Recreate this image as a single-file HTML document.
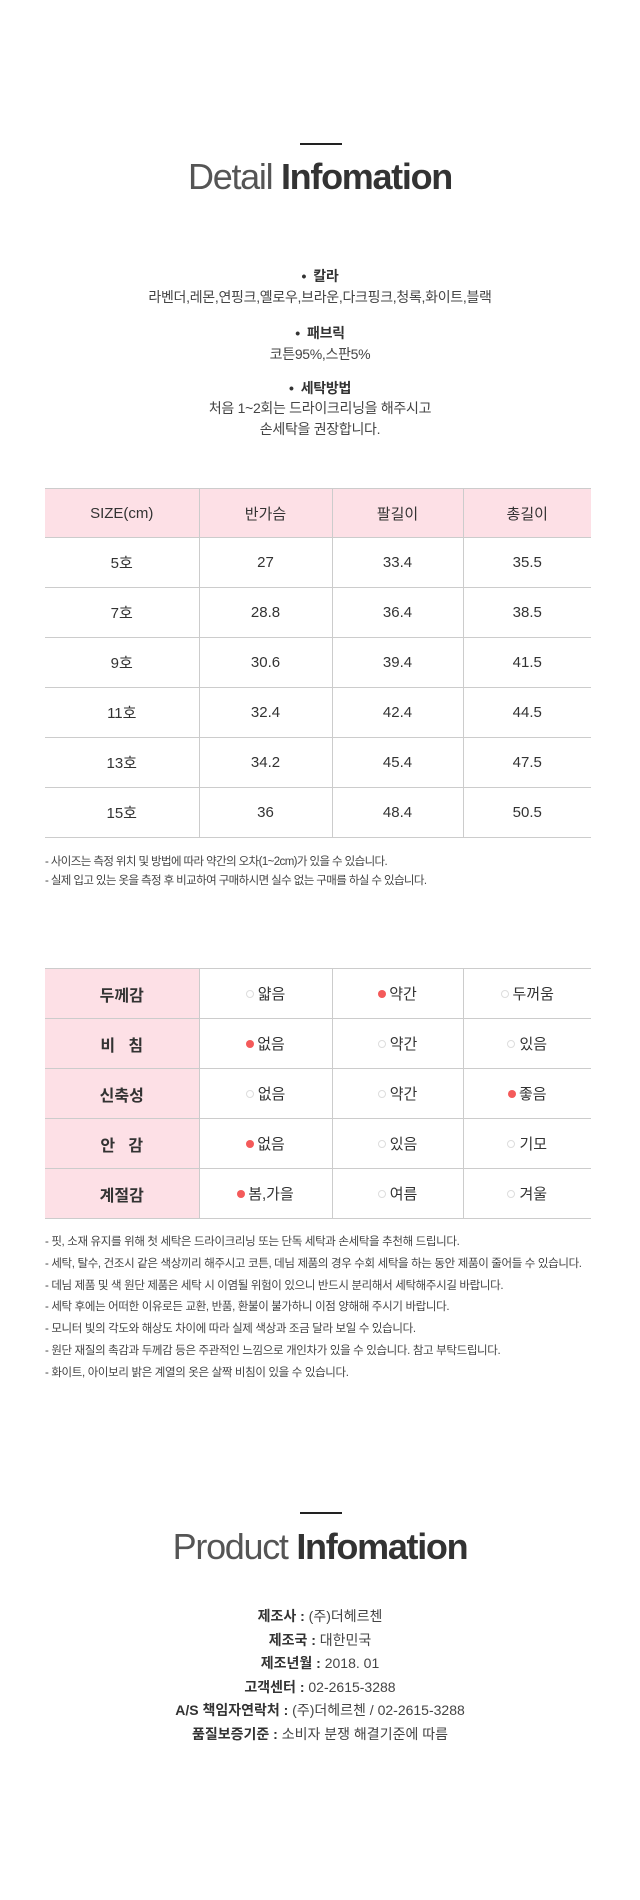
<!DOCTYPE html>
<html><head><meta charset="utf-8">
<style>
*{margin:0;padding:0;box-sizing:border-box}
body{width:640px;height:1900px;background:#fff;position:relative;font-family:"Liberation Sans","Noto Sans CJK KR",sans-serif;color:#333;overflow:hidden}
.ln{position:absolute;left:300px;width:42px;height:2px;background:#222}
.ttl{position:absolute;left:0;width:640px;text-align:center;font-size:36px;color:#333;letter-spacing:-1.3px;line-height:40px}
.ttl b{font-weight:bold}
.ttl span{font-weight:300;color:#555}
.c{position:absolute;left:0;width:640px;text-align:center;font-size:14px;line-height:20px;color:#444;letter-spacing:-0.3px}
.c.b{font-weight:bold;color:#333}
table{position:absolute;left:45px;width:546px;border-collapse:collapse;table-layout:fixed}
td{border-top:1px solid #ccc;border-bottom:1px solid #ccc;border-left:1px solid #ccc;height:50px;text-align:center;font-size:15px;color:#333}
td:first-child{border-left:none}
tr.h td{background:#fde0e6;height:49px}
td.p{background:#fde0e6;font-weight:bold;font-size:16px}
.d{display:inline-block;width:8px;height:8px;border-radius:50%;background:#f45a5a;margin-right:3px;vertical-align:1px}
.o{display:inline-block;width:8px;height:8px;border-radius:50%;border:1px solid #ddd;margin-right:4px;vertical-align:1px}
.n{position:absolute;left:45px;font-size:11.5px;color:#444;letter-spacing:-0.6px;line-height:19px;white-space:nowrap}
.info{position:absolute;left:0;width:640px;text-align:center;font-size:14px;line-height:23.5px;color:#444}
.info b{color:#333}
</style></head><body>
<div class="ln" style="top:143px"></div>
<div class="ttl" style="top:157px"><span>Detail</span> <b>Infomation</b></div>

<div class="c b" style="top:266px">•&nbsp; 칼라</div>
<div class="c" style="top:287px">라벤더,레몬,연핑크,옐로우,브라운,다크핑크,청록,화이트,블랙</div>
<div class="c b" style="top:323px">•&nbsp; 패브릭</div>
<div class="c" style="top:344px">코튼95%,스판5%</div>
<div class="c b" style="top:378px">•&nbsp; 세탁방법</div>
<div class="c" style="top:398px">처음 1~2회는 드라이크리닝을 해주시고</div>
<div class="c" style="top:419px">손세탁을 권장합니다.</div>

<table style="top:488px">
<colgroup><col style="width:154px"><col style="width:133px"><col style="width:131px"><col style="width:128px"></colgroup>
<tr class="h"><td>SIZE(cm)</td><td>반가슴</td><td>팔길이</td><td>총길이</td></tr>
<tr><td>5호</td><td>27</td><td>33.4</td><td>35.5</td></tr>
<tr><td>7호</td><td>28.8</td><td>36.4</td><td>38.5</td></tr>
<tr><td>9호</td><td>30.6</td><td>39.4</td><td>41.5</td></tr>
<tr><td>11호</td><td>32.4</td><td>42.4</td><td>44.5</td></tr>
<tr><td>13호</td><td>34.2</td><td>45.4</td><td>47.5</td></tr>
<tr><td>15호</td><td>36</td><td>48.4</td><td>50.5</td></tr>
</table>
<div class="n" style="top:853px">- 사이즈는 측정 위치 및 방법에 따라 약간의 오차(1~2cm)가 있을 수 있습니다.<br>- 실제 입고 있는 옷을 측정 후 비교하여 구매하시면 실수 없는 구매를 하실 수 있습니다.</div>

<table style="top:968px">
<colgroup><col style="width:154px"><col style="width:133px"><col style="width:131px"><col style="width:128px"></colgroup>
<tr><td class="p">두께감</td><td><i class="o"></i>얇음</td><td><i class="d"></i>약간</td><td><i class="o"></i>두꺼움</td></tr>
<tr><td class="p">비 &nbsp; 침</td><td><i class="d"></i>없음</td><td><i class="o"></i>약간</td><td><i class="o"></i>있음</td></tr>
<tr><td class="p">신축성</td><td><i class="o"></i>없음</td><td><i class="o"></i>약간</td><td><i class="d"></i>좋음</td></tr>
<tr><td class="p">안 &nbsp; 감</td><td><i class="d"></i>없음</td><td><i class="o"></i>있음</td><td><i class="o"></i>기모</td></tr>
<tr><td class="p">계절감</td><td><i class="d"></i>봄,가을</td><td><i class="o"></i>여름</td><td><i class="o"></i>겨울</td></tr>
</table>
<div class="n" style="top:1232px;line-height:21.8px;letter-spacing:-0.35px">- 핏, 소재 유지를 위해 첫 세탁은 드라이크리닝 또는 단독 세탁과 손세탁을 추천해 드립니다.<br>- 세탁, 탈수, 건조시 같은 색상끼리 해주시고 코튼, 데님 제품의 경우 수회 세탁을 하는 동안 제품이 줄어들 수 있습니다.<br>- 데님 제품 및 색 원단 제품은 세탁 시 이염될 위험이 있으니 반드시 분리해서 세탁해주시길 바랍니다.<br>- 세탁 후에는 어떠한 이유로든 교환, 반품, 환불이 불가하니 이점 양해해 주시기 바랍니다.<br>- 모니터 빛의 각도와 해상도 차이에 따라 실제 색상과 조금 달라 보일 수 있습니다.<br>- 원단 재질의 촉감과 두께감 등은 주관적인 느낌으로 개인차가 있을 수 있습니다. 참고 부탁드립니다.<br>- 화이트, 아이보리 밝은 계열의 옷은 살짝 비침이 있을 수 있습니다.</div>

<div class="ln" style="top:1512px"></div>
<div class="ttl" style="top:1527px"><span>Product</span> <b>Infomation</b></div>
<div class="info" style="top:1605px">
<b>제조사 :</b> (주)더헤르첸<br>
<b>제조국 :</b> 대한민국<br>
<b>제조년월 :</b> 2018. 01<br>
<b>고객센터 :</b> 02-2615-3288<br>
<b>A/S 책임자연락처 :</b> (주)더헤르첸 / 02-2615-3288<br>
<b>품질보증기준 :</b> 소비자 분쟁 해결기준에 따름
</div>
</body></html>
